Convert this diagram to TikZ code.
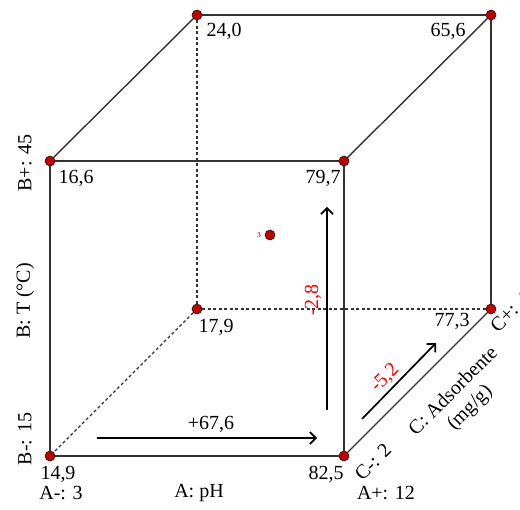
\documentclass[tikz,border=0pt]{standalone}
\usepackage{fontspec}
\setmainfont{Liberation Serif}
\usetikzlibrary{arrows.meta}

\definecolor{dotred}{RGB}{185,5,5}
\definecolor{edgegray}{RGB}{50,50,50}

\tikzset{
  corner/.style={circle, inner sep=0pt, minimum size=10pt, fill=dotred, draw=black!70!dotred, line width=0.6pt},
  edge/.style={edgegray, line width=1.4pt},
  hidden/.style={edgegray, line width=1.4pt, dash pattern=on 3pt off 2.5pt},
  effect/.style={black, line width=1.7pt, -{Straight Barb[length=6pt,width=12pt,line width=1.7pt]}},
  val/.style={font=\fontsize{20}{23}\selectfont, inner sep=0pt},
  redval/.style={val, text=red},
}

\begin{document}
\begin{tikzpicture}[x=1pt,y=-1pt]
\useasboundingbox (0,0) rectangle (520,510);
% cube corners
\node[corner] (fbl) at (50,456) {};
\node[corner] (fbr) at (344,456) {};
\node[corner] (ftl) at (50,161) {};
\node[corner] (ftr) at (344,161) {};
\node[corner] (bbl) at (197,309) {};
\node[corner] (bbr) at (491,309) {};
\node[corner] (btl) at (197,15) {};
\node[corner] (btr) at (491,15) {};
\node[corner] (ctr) at (270,235) {};
% hidden edges
\draw[hidden] (bbl) -- (btl);
\draw[hidden] (bbl) -- (bbr);
\draw[hidden] (bbl) -- (fbl);
% visible edges
\draw[edge] (fbl) -- (fbr);
\draw[edge] (fbr) -- (ftr);
\draw[edge] (ftr) -- (ftl);
\draw[edge] (ftl) -- (fbl);
\draw[edge] (ftl) -- (btl);
\draw[edge] (btl) -- (btr);
\draw[edge] (btr) -- (bbr);
\draw[edge] (bbr) -- (fbr);
\draw[edge] (ftr) -- (btr);
% response values
\node[val] (v240) at (224,31) {24,0};
\node[val] (v656) at (448,31) {65,6};
\node[val] (v166) at (76,178) {16,6};
\node[val] (v797) at (323,178) {79,7};
\node[val] (v179) at (216,327) {17,9};
\node[val] (v773) at (452,321) {77,3};
\node[val] (v149) at (58,474) {14,9};
\node[val] (v825) at (326,474) {82,5};
\node[font=\fontsize{7}{8}\selectfont, inner sep=0pt] (ctrlab) at (259,235) {3};
% factor levels
\node[val] (alo) at (61,493) {A-: 3};
\node[val] (aname) at (199,493) {A: pH};
\node[val] (ahi) at (386,493) {A+: 12};
\node[val, rotate=90] (blo) at (25,439) {B-: 15};
\node[val, rotate=90] (bname) at (25,301) {B: T (°C)};
\node[val, rotate=90] (bhi) at (25,163) {B+: 45};
\node[val, rotate=45] (clo) at (373,462) {C-: 2};
\node[val, rotate=45, align=center] (cname) at (462,400) {C: Adsorbente\\(mg/g)};
\node[val, rotate=45] (chi) at (510,312) {C+: 4};
% effects
\coordinate (ha) at (97,438);
\coordinate (hb) at (317,438);
\coordinate (va) at (327,410);
\coordinate (vb) at (327,207);
\coordinate (da) at (362,419);
\coordinate (db) at (436,343);
\draw[effect] (ha) -- (hb);
\draw[effect] (va) -- (vb);
\draw[effect] (da) -- (db);
\node[val] (effa) at (211,424) {+67,6};
\node[redval, rotate=90] (effb) at (313,300) {-2,8};
\node[redval, rotate=45] (effc) at (385,378) {-5,2};
\end{tikzpicture}
\end{document}
